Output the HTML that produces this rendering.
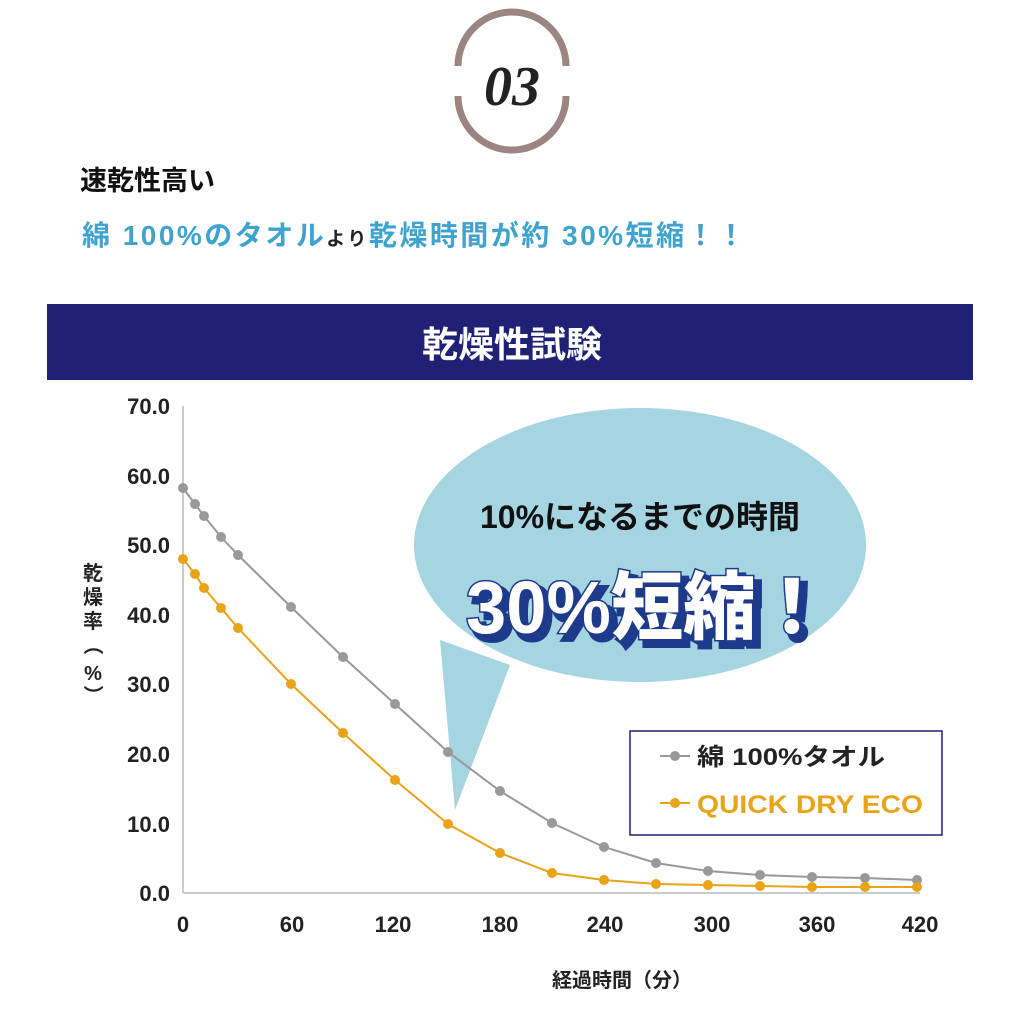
<!DOCTYPE html>
<html><head><meta charset="utf-8"><style>
body{margin:0;width:1024px;height:1024px;background:#fff;overflow:hidden;font-family:"Liberation Sans","Noto Sans CJK JP",sans-serif}
</style></head><body>
<svg width="1024" height="1024" viewBox="0 0 1024 1024" xmlns="http://www.w3.org/2000/svg" font-family="Liberation Sans, Noto Sans CJK JP, sans-serif">
<path d="M458 66 A54 54 0 0 1 566 66" fill="none" stroke="#9a8580" stroke-width="7"/>
<path d="M458 96 A54 54 0 0 0 566 96" fill="none" stroke="#9a8580" stroke-width="7"/>
<text x="512" y="105" font-family="Liberation Serif, serif" font-style="italic" font-weight="bold" font-size="56" fill="#222" text-anchor="middle">03</text>
<text x="80" y="190" font-size="27" font-weight="bold" fill="#111">速乾性高い</text>
<text x="82" y="245" font-size="28" font-weight="bold" fill="#3ea4cf" textLength="663" lengthAdjust="spacing">綿 100%のタオル<tspan font-size="19" fill="#222">より</tspan>乾燥時間が約 30%短縮！！</text>
<rect x="47" y="304" width="926" height="76" fill="#1e2174"/>
<text x="512" y="357" font-size="36" font-weight="bold" fill="#fff" text-anchor="middle">乾燥性試験</text>
<g font-size="22" font-weight="bold" fill="#222" text-anchor="end">
<text x="170" y="414">70.0</text><text x="170" y="484">60.0</text><text x="170" y="553">50.0</text><text x="170" y="623">40.0</text><text x="170" y="692">30.0</text><text x="170" y="762">20.0</text><text x="170" y="832">10.0</text><text x="170" y="901">0.0</text>
</g>
<g font-size="22" font-weight="bold" fill="#222" text-anchor="middle">
<text x="183" y="932">0</text><text x="292" y="932">60</text><text x="393" y="932">120</text><text x="500" y="932">180</text><text x="605" y="932">240</text><text x="712" y="932">300</text><text x="817" y="932">360</text><text x="920" y="932">420</text>
</g>
<g font-size="20" font-weight="bold" fill="#222" text-anchor="middle">
<text x="93" y="580">乾</text><text x="93" y="604">燥</text><text x="93" y="628">率</text><text x="93" y="652" transform="rotate(90 93 645)">（</text><text x="93" y="680">%</text><text x="93" y="702" transform="rotate(90 93 695)">）</text>
</g>
<text x="622" y="987" font-size="20" font-weight="bold" fill="#222" text-anchor="middle">経過時間（分）</text>
<line x1="183" y1="406" x2="183" y2="893" stroke="#ccc" stroke-width="2"/>
<line x1="183" y1="893" x2="920" y2="893" stroke="#ccc" stroke-width="2"/>
<path d="M440 640 L455 810 L510 665 Z" fill="#a5d5e0"/>
<ellipse cx="640" cy="545" rx="226" ry="137" fill="#a5d5e0"/>
<text x="640" y="528" font-size="32" font-weight="bold" fill="#111" text-anchor="middle">10%になるまでの時間</text>
<g font-size="74" font-weight="900" text-anchor="middle">
<text x="653" y="639" fill="#1e3a8a" stroke="#1e3a8a" stroke-width="6" textLength="362" lengthAdjust="spacingAndGlyphs">30%短縮！</text>
<text x="647" y="633" fill="#fff" stroke="#1e3a8a" stroke-width="3" paint-order="stroke" textLength="362" lengthAdjust="spacingAndGlyphs">30%短縮！</text>
</g>
<polyline fill="none" stroke="#999" stroke-width="2" points="183,488 195,504 204,516 221,537 238,555 291,607 343,657 395,704 448,752 500,791 552,823 604,847 656,863 708,871 760,875 812,877 865,878 917,880"/>
<g fill="#999"><circle cx="183" cy="488" r="5"/><circle cx="195" cy="504" r="5"/><circle cx="204" cy="516" r="5"/><circle cx="221" cy="537" r="5"/><circle cx="238" cy="555" r="5"/><circle cx="291" cy="607" r="5"/><circle cx="343" cy="657" r="5"/><circle cx="395" cy="704" r="5"/><circle cx="448" cy="752" r="5"/><circle cx="500" cy="791" r="5"/><circle cx="552" cy="823" r="5"/><circle cx="604" cy="847" r="5"/><circle cx="656" cy="863" r="5"/><circle cx="708" cy="871" r="5"/><circle cx="760" cy="875" r="5"/><circle cx="812" cy="877" r="5"/><circle cx="865" cy="878" r="5"/><circle cx="917" cy="880" r="5"/></g>
<polyline fill="none" stroke="#e8a317" stroke-width="2" points="183,559 195,574 204,588 221,608 238,628 291,684 343,733 395,780 448,824 500,853 552,873 604,880 656,884 708,885 760,886 812,887 865,887 917,887"/>
<g fill="#e8a317"><circle cx="183" cy="559" r="5"/><circle cx="195" cy="574" r="5"/><circle cx="204" cy="588" r="5"/><circle cx="221" cy="608" r="5"/><circle cx="238" cy="628" r="5"/><circle cx="291" cy="684" r="5"/><circle cx="343" cy="733" r="5"/><circle cx="395" cy="780" r="5"/><circle cx="448" cy="824" r="5"/><circle cx="500" cy="853" r="5"/><circle cx="552" cy="873" r="5"/><circle cx="604" cy="880" r="5"/><circle cx="656" cy="884" r="5"/><circle cx="708" cy="885" r="5"/><circle cx="760" cy="886" r="5"/><circle cx="812" cy="887" r="5"/><circle cx="865" cy="887" r="5"/><circle cx="917" cy="887" r="5"/></g>
<rect x="630" y="731" width="312" height="104" fill="#fff" stroke="#1e2174" stroke-width="1.5"/>
<line x1="660" y1="756" x2="690" y2="756" stroke="#999" stroke-width="2"/><circle cx="675" cy="756" r="5" fill="#999"/>
<text x="697" y="765" font-size="24" font-weight="bold" fill="#222" textLength="188" lengthAdjust="spacingAndGlyphs">綿 100%タオル</text>
<line x1="660" y1="803" x2="690" y2="803" stroke="#e8a317" stroke-width="2"/><circle cx="675" cy="803" r="5" fill="#e8a317"/>
<text x="697" y="813" font-size="25" font-weight="bold" fill="#e8a317" textLength="226" lengthAdjust="spacingAndGlyphs">QUICK DRY ECO</text>
</svg>
</body></html>
